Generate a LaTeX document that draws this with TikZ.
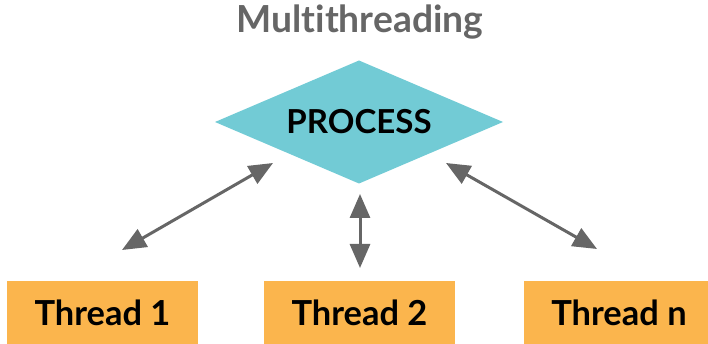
\documentclass[tikz,border=0pt]{standalone}
\usepackage{fontspec}
\setmainfont{Lato}[Ligatures={NoCommon}]
\usetikzlibrary{shapes.geometric}
\usetikzlibrary{arrows.meta}
\definecolor{procblue}{HTML}{72CBD5}
\definecolor{threadorange}{HTML}{FBB54D}
\definecolor{arrowgray}{HTML}{666666}

\begin{document}
\begin{tikzpicture}[x=0.25mm, y=-0.25mm,
	> = {Triangle[length=6mm, width=5mm]},
	thread/.style = {fill=threadorange, anchor=north, minimum width=47.75mm, minimum height=16mm,
	                 font=\fontsize{24.5}{28}\selectfont\bfseries},
	link/.style = {<->, draw=arrowgray, fill=arrowgray, line width=0.75mm},]

	\useasboundingbox (0,0) rectangle (708,344);

	\node[text=arrowgray, font=\fontsize{26.5}{30}\selectfont\bfseries, anchor=base] (title) at (360,33) {Multithreading};

	\node[diamond, aspect=2.34, fill=procblue, inner sep=0pt, outer sep=0pt,
	      minimum width=72mm, minimum height=30.75mm,
	      font=\fontsize{23.5}{28}\selectfont\bfseries] (proc) at (359,122) {PROCESS};

	\node[thread] (t1) at (102.5,281) {Thread 1};
	\node[thread] (t2) at (359.5,281) {Thread 2};
	\node[thread] (tn) at (619,281) {Thread n};

	% free ends of the arrows between process and threads
	\coordinate (p1) at (273,163);
	\coordinate (p2) at (360,194);
	\coordinate (pn) at (446,163);
	\coordinate (q1) at (122,250);
	\coordinate (q2) at (360,268);
	\coordinate (qn) at (597,249);

	\draw[link] (p1) -- (q1);
	\draw[link] (p2) -- (q2);
	\draw[link] (pn) -- (qn);

\end{tikzpicture}
\end{document}
